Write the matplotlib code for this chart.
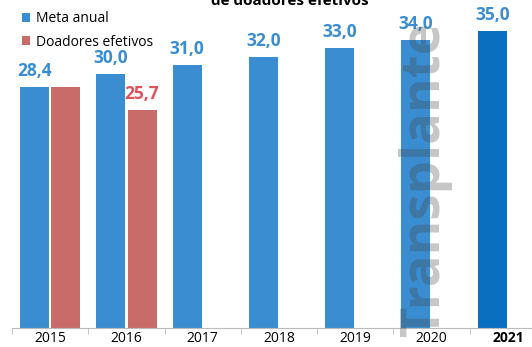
import matplotlib.pyplot as plt
import numpy as np

plt.rcParams['font.family'] = ['Open Sans', 'DejaVu Sans']

anos = ['2015', '2016', '2017', '2018', '2019', '2020', '2021']
meta = [28.4, 30.0, 31.0, 32.0, 33.0, 34.0, 35.0]
efetivos = [28.4, 25.7]
labels_meta = ['28,4', '30,0', '31,0', '32,0', '33,0', '34,0', '35,0']
labels_efetivos = ['', '25,7']

azul = '#3a8dd0'
azul_escuro = '#0b6fc0'
vermelho = '#c96c69'

fig = plt.figure(figsize=(5.32, 3.47), dpi=100)
ax = fig.add_axes([12/532, 1 - 328/347, 534/532, 328/347])

x = np.arange(len(anos))
w = 0.38
cores = [azul] * (len(anos) - 1) + [azul_escuro]
b1 = ax.bar(x - 0.205, meta, w, color=cores, label='Meta anual', zorder=2)
b2 = ax.bar(x[:len(efetivos)] + 0.205, efetivos, w, color=vermelho,
            label='Doadores efetivos', zorder=2)

for rect, lab in zip(b1, labels_meta):
    ax.annotate(lab, (rect.get_x() + rect.get_width() / 2, rect.get_height()),
                xytext=(0, 5), textcoords='offset points', ha='center', va='bottom',
                fontsize=12.5, fontweight='bold', color=azul)
for rect, lab in zip(b2, labels_efetivos):
    if lab:
        ax.annotate(lab, (rect.get_x() + rect.get_width() / 2, rect.get_height()),
                    xytext=(0, 5), textcoords='offset points', ha='center', va='bottom',
                    fontsize=12.5, fontweight='bold', color='#e0525a')

# marca d'agua
ax.text(4.92, -0.9, 'Transplante', rotation=90, fontsize=38, fontweight='bold',
        color='#444444', alpha=0.3, ha='center', va='bottom', zorder=3)

ax.set_xlim(-0.5, 6.5)
ax.set_ylim(0, 38.7)
ax.set_yticks([])
ax.set_xticks(x)
ax.set_xticklabels(anos, fontsize=10)
ax.get_xticklabels()[-1].set_fontweight('bold')
ax.set_xticks(np.arange(-0.5, 7, 1), minor=True)
ax.tick_params(axis='x', which='major', length=0, pad=2)
ax.tick_params(axis='x', which='minor', length=4, color='#bbbbbb')
for s in ['top', 'right', 'left']:
    ax.spines[s].set_visible(False)
ax.spines['bottom'].set_color('#bbbbbb')

ax.legend(loc='upper left', bbox_to_anchor=(0.0, 0.995), frameon=False, fontsize=10,
          handlelength=0.6, handleheight=0.6, handletextpad=0.4, labelspacing=0.6,
          borderaxespad=0.3)

fig.text(290/532, 0.998, 'de doadores efetivos', ha='center', va='center',
         fontsize=11, fontweight='bold')

fig.savefig('out.png', dpi=100)
